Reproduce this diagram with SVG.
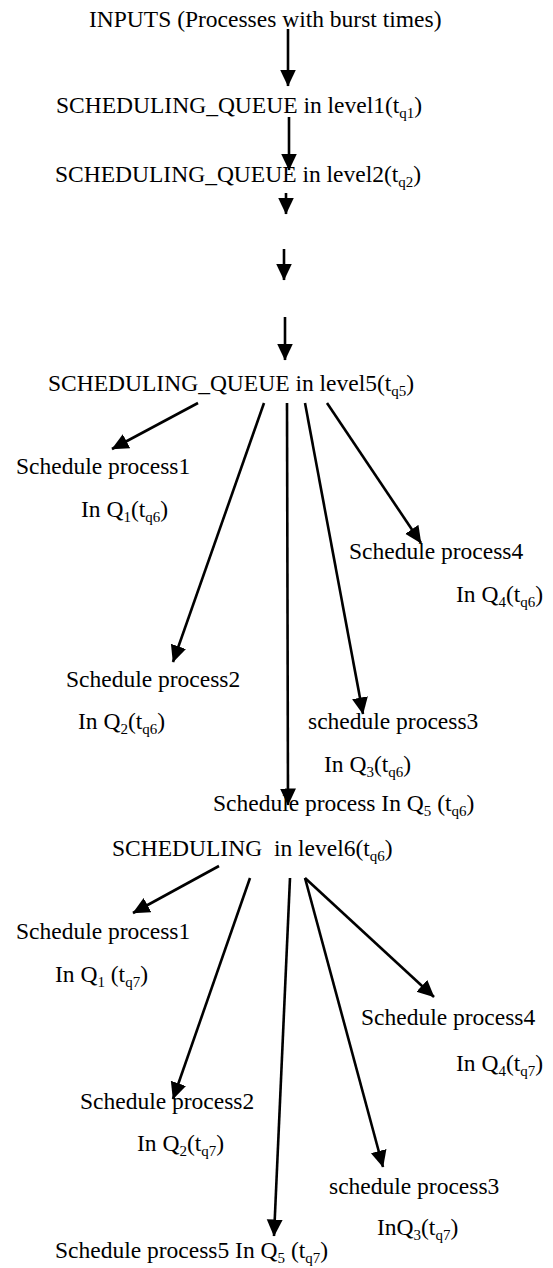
<svg xmlns="http://www.w3.org/2000/svg" width="553" height="1268" viewBox="0 0 553 1268">
<style>
text{font-family:"Liberation Serif","Times New Roman",serif;font-size:23.5px;fill:#000;white-space:pre}
.s{font-size:15px}
.c line{stroke:#000;stroke-width:2.6;marker-end:url(#ah)}
</style>
<defs>
<marker id="ah" markerUnits="userSpaceOnUse" markerWidth="18" markerHeight="17" refX="16.5" refY="8" orient="auto" viewBox="0 0 18 17">
<path d="M0,0 L17,8 L0,16 z" fill="#000"/>
</marker>
</defs>
<rect width="553" height="1268" fill="#fff"/>
<g class="c" id="connectors">
<line x1="288" y1="29" x2="288" y2="86"/>
<line x1="289" y1="117" x2="289" y2="170"/>
<line x1="286" y1="193" x2="286" y2="214"/>
<line x1="284" y1="249" x2="284" y2="280"/>
<line x1="285" y1="317" x2="285" y2="360"/>
<line x1="198" y1="403" x2="112" y2="449"/>
<line x1="264" y1="403" x2="173" y2="662"/>
<line x1="287" y1="403" x2="288" y2="805"/>
<line x1="305" y1="403" x2="363" y2="714"/>
<line x1="327" y1="403" x2="421" y2="543"/>
<line x1="219" y1="866" x2="133" y2="913"/>
<line x1="250" y1="878" x2="173" y2="1099"/>
<line x1="290" y1="878" x2="274" y2="1236"/>
<line x1="305" y1="878" x2="383" y2="1167"/>
<line x1="305" y1="878" x2="434" y2="997"/>
</g>
<g id="inputs"><text x="89" y="27">INPUTS (Processes with burst times)</text></g>
<g id="level1"><text x="56" y="113">SCHEDULING_QUEUE in level1(t<tspan class="s" dy="5">q1</tspan><tspan dy="-5">)</tspan></text></g>
<g id="level2"><text x="55" y="182">SCHEDULING_QUEUE in level2(t<tspan class="s" dy="5">q2</tspan><tspan dy="-5">)</tspan></text></g>
<g id="level5"><text x="48" y="391">SCHEDULING_QUEUE in level5(t<tspan class="s" dy="5">q5</tspan><tspan dy="-5">)</tspan></text></g>
<g id="l5p1"><text x="16" y="474">Schedule process1</text><text x="81" y="517">In Q<tspan class="s" dy="5">1</tspan><tspan dy="-5">(t</tspan><tspan class="s" dy="5">q6</tspan><tspan dy="-5">)</tspan></text></g>
<g id="l5p4"><text x="349" y="559">Schedule process4</text><text x="456" y="602">In Q<tspan class="s" dy="5">4</tspan><tspan dy="-5">(t</tspan><tspan class="s" dy="5">q6</tspan><tspan dy="-5">)</tspan></text></g>
<g id="l5p2"><text x="66" y="687">Schedule process2</text><text x="78" y="729">In Q<tspan class="s" dy="5">2</tspan><tspan dy="-5">(t</tspan><tspan class="s" dy="5">q6</tspan><tspan dy="-5">)</tspan></text></g>
<g id="l5p3"><text x="308" y="729">schedule process3</text><text x="324" y="772">In Q<tspan class="s" dy="5">3</tspan><tspan dy="-5">(t</tspan><tspan class="s" dy="5">q6</tspan><tspan dy="-5">)</tspan></text></g>
<g id="l5q5"><text x="213" y="811">Schedule process In Q<tspan class="s" dy="5">5</tspan><tspan dy="-5"> (t</tspan><tspan class="s" dy="5">q6</tspan><tspan dy="-5">)</tspan></text></g>
<g id="level6"><text x="112" y="856">SCHEDULING  in level6(t<tspan class="s" dy="5">q6</tspan><tspan dy="-5">)</tspan></text></g>
<g id="l6p1"><text x="16" y="939">Schedule process1</text><text x="55" y="982">In Q<tspan class="s" dy="5">1</tspan><tspan dy="-5"> (t</tspan><tspan class="s" dy="5">q7</tspan><tspan dy="-5">)</tspan></text></g>
<g id="l6p4"><text x="361" y="1025">Schedule process4</text><text x="456" y="1071">In Q<tspan class="s" dy="5">4</tspan><tspan dy="-5">(t</tspan><tspan class="s" dy="5">q7</tspan><tspan dy="-5">)</tspan></text></g>
<g id="l6p2"><text x="80" y="1109">Schedule process2</text><text x="137" y="1151">In Q<tspan class="s" dy="5">2</tspan><tspan dy="-5">(t</tspan><tspan class="s" dy="5">q7</tspan><tspan dy="-5">)</tspan></text></g>
<g id="l6p3"><text x="329" y="1194">schedule process3</text><text x="377" y="1235">InQ<tspan class="s" dy="5">3</tspan><tspan dy="-5">(t</tspan><tspan class="s" dy="5">q7</tspan><tspan dy="-5">)</tspan></text></g>
<g id="l6q5"><text x="55" y="1258">Schedule process5 In Q<tspan class="s" dy="5">5</tspan><tspan dy="-5"> (t</tspan><tspan class="s" dy="5">q7</tspan><tspan dy="-5">)</tspan></text></g>
</svg>
